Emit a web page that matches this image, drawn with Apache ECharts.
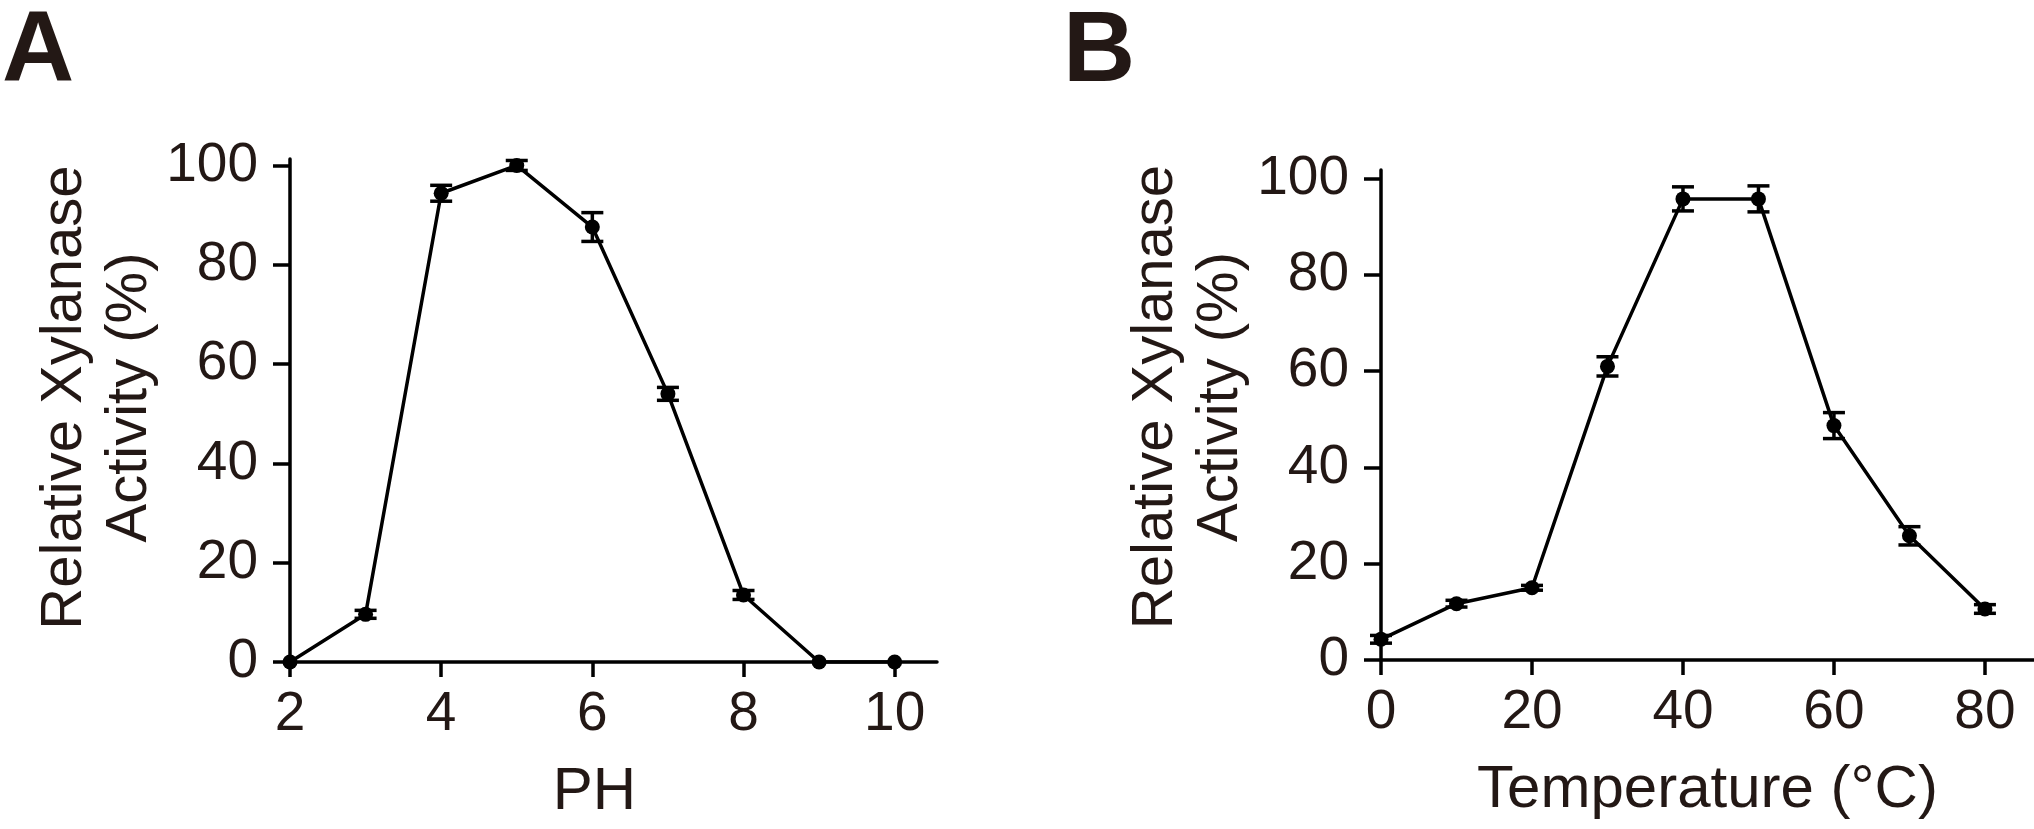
<!DOCTYPE html>
<html>
<head>
<meta charset="utf-8">
<script src="https://cdn.jsdelivr.net/npm/echarts@6/dist/echarts.min.js"></script>
<style>
  html, body { margin: 0; padding: 0; background: #fff; }
  #chart { width: 2034px; height: 829px; }
</style>
</head>
<body>
<div id="chart"></div>
<script>
// panel A: pH
const phValues = [2, 3, 4, 5, 6, 7, 8, 9, 10]
const phActivity = [0, 9.6, 94.4, 100, 87.6, 54.0, 13.5, 0, 0]
const phError = [0, 0.8, 1.6, 1.0, 2.9, 1.3, 0.9, 0, 0]
const phTicks = [2, 4, 6, 8, 10]

// panel B: temperature
const tempValues = [0, 10, 20, 30, 40, 50, 60, 70, 80]
const tempActivity = [4.3, 11.7, 15.0, 61.0, 95.8, 95.8, 48.7, 25.8, 10.6]
const tempError = [0.8, 0.7, 0.5, 2.0, 2.5, 2.7, 2.7, 1.9, 0.9]
const tempTicks = [0, 20, 40, 60, 80]

const yTicks = [0, 20, 40, 60, 80, 100]

const FONT = "'Liberation Sans', Arial, sans-serif"
const TEXT = '#231815'
const LW = 3.5

const chart = echarts.init(document.getElementById('chart'), null, { renderer: 'canvas' })

function points(xs, ys) {
  return xs.map((x, i) => [x, ys[i]])
}

function errors(xs, ys, es) {
  return xs.map((x, i) => [x, ys[i] - es[i], ys[i] + es[i]]).filter((d, i) => es[i] > 0)
}

function renderError(params, api) {
  const lo = api.coord([api.value(0), api.value(1)])
  const hi = api.coord([api.value(0), api.value(2)])
  const w = 11
  const style = { stroke: '#000', lineWidth: LW }
  return {
    type: 'group',
    children: [
      { type: 'line', shape: { x1: lo[0], y1: lo[1], x2: hi[0], y2: hi[1] }, style },
      { type: 'line', shape: { x1: lo[0] - w, y1: lo[1], x2: lo[0] + w, y2: lo[1] }, style },
      { type: 'line', shape: { x1: hi[0] - w, y1: hi[1], x2: hi[0] + w, y2: hi[1] }, style }
    ]
  }
}

function xAxis(idx, name, min, max, interval, ticks, shift) {
  return {
    gridIndex: idx,
    type: 'value',
    min, max, interval,
    name,
    nameLocation: 'middle',
    nameGap: 100,
    nameTextStyle: { fontFamily: FONT, fontSize: 60, color: TEXT, padding: [0, shift, 0, 0] },
    axisLine: { lineStyle: { color: '#000', width: LW } },
    axisTick: { length: 15, lineStyle: { width: LW, color: '#000' }, customValues: ticks },
    axisLabel: { fontFamily: FONT, fontSize: 55, color: TEXT, margin: 25, customValues: ticks },
    splitLine: { show: false }
  }
}

function yAxis(idx, max, shift) {
  return {
    gridIndex: idx,
    type: 'value',
    min: 0, max, interval: 20,
    name: 'Relative Xylanase\nActivity (%)',
    nameLocation: 'middle',
    nameGap: 108,
    nameTextStyle: { fontFamily: FONT, fontSize: 58, lineHeight: 65, color: TEXT, padding: [0, 0, 0, shift] },
    axisLine: { lineStyle: { color: '#000', width: LW } },
    axisTick: { length: 17, lineStyle: { width: LW, color: '#000' }, customValues: yTicks },
    axisLabel: { fontFamily: FONT, fontSize: 55, color: TEXT, margin: 32, customValues: yTicks },
    splitLine: { show: false }
  }
}

const lineStyle = { color: '#000', width: LW }

chart.setOption({
  animation: false,
  backgroundColor: '#fff',
  title: [
    { text: 'A', left: -3, top: -2, textStyle: { fontFamily: FONT, fontWeight: 'bold', fontSize: 100, color: TEXT } },
    { text: 'B', left: 1058, top: -2, textStyle: { fontFamily: FONT, fontWeight: 'bold', fontSize: 100, color: TEXT } }
  ],
  grid: [
    { left: 290, top: 159, width: 647, height: 503 },
    { left: 1381, top: 170, width: 653, height: 490 }
  ],
  xAxis: [
    xAxis(0, 'PH', 2, 10.56, 2, phTicks, 38),
    xAxis(1, 'Temperature (°C)', 0, 86.5, 20, tempTicks, 0)
  ],
  yAxis: [
    yAxis(0, 101.3, 26),
    yAxis(1, 101.8, 36)
  ],
  series: [
    {
      type: 'custom', xAxisIndex: 0, yAxisIndex: 0,
      renderItem: renderError, data: errors(phValues, phActivity, phError), z: 3
    },
    {
      type: 'line', xAxisIndex: 0, yAxisIndex: 0,
      data: points(phValues, phActivity),
      symbol: 'circle', symbolSize: 15,
      itemStyle: { color: '#000' }, lineStyle, z: 2
    },
    {
      type: 'custom', xAxisIndex: 1, yAxisIndex: 1,
      renderItem: renderError, data: errors(tempValues, tempActivity, tempError), z: 3
    },
    {
      type: 'line', xAxisIndex: 1, yAxisIndex: 1,
      data: points(tempValues, tempActivity),
      symbol: 'circle', symbolSize: 15,
      itemStyle: { color: '#000' }, lineStyle, z: 2
    }
  ]
})
</script>
</body>
</html>
